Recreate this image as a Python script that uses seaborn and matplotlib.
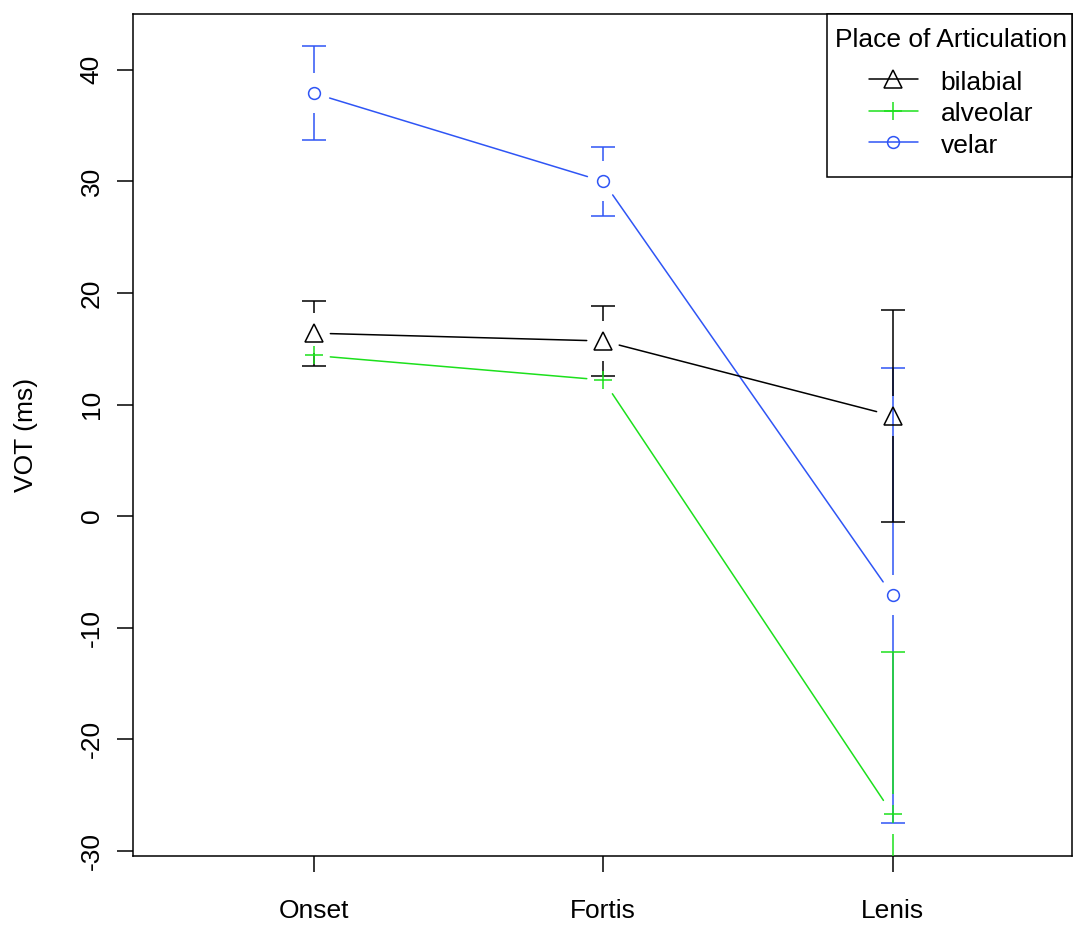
import numpy as np
import pandas as pd
import matplotlib
matplotlib.use("Agg")
import matplotlib.pyplot as plt
import seaborn as sns
from matplotlib.lines import Line2D
from matplotlib.patches import Rectangle

# ---- data ----
conditions = ["Onset", "Fortis", "Lenis"]
places = ["bilabial", "alveolar", "velar"]
bilabial_mean = [16.4, 15.7, 9.0]
bilabial_se = [2.9, 3.1, 9.5]
alveolar_mean = [14.4, 12.2, -26.7]
alveolar_se = [1.2, 1.1, 14.5]
velar_mean = [37.9, 30.0, -7.1]
velar_se = [4.2, 3.1, 20.4]
yticks = [-30, -20, -10, 0, 10, 20, 30, 40]

means = {"bilabial": bilabial_mean, "alveolar": alveolar_mean, "velar": velar_mean}
ses = {"bilabial": bilabial_se, "alveolar": alveolar_se, "velar": velar_se}

colors = {"bilabial": "black", "alveolar": "#1CE01C", "velar": "#2F55F5"}
markers = {"bilabial": "^", "alveolar": "+", "velar": "o"}
msizes = {"bilabial": 12.5, "alveolar": 13, "velar": 8.5}
draw_order = ["velar", "alveolar", "bilabial"]

sns.set_theme(style="white")
plt.rcParams["font.family"] = ["Liberation Sans", "DejaVu Sans"]

W, H = 1073, 925
L, R, T, B = 133, 1072, 14, 856
fig = plt.figure(figsize=(W / 100, H / 100), dpi=100)
ax = fig.add_axes([L / W, 1 - B / H, (R - L) / W, (B - T) / H])
XLIM = (-0.625, 2.62)
YLIM = (-30.45, 45.0)
ax.set_xlim(*XLIM)
ax.set_ylim(*YLIM)

x = np.arange(len(conditions), dtype=float)

def to_px(pts):
    return ax.transData.transform(pts)

def to_data(px):
    return ax.transData.inverted().transform(px)

LINE_GAP = 16.5   # px gap between connecting line and point
BAR_GAP = 20.0    # px gap between error bar and point
CAP_MS = 17.0     # cap width in points
LW = 1.1

ppu_y = to_px([(0, 1)])[0, 1] - to_px([(0, 0)])[0, 1]
gap_y = BAR_GAP / ppu_y

# connecting lines with gaps around points (type = "b")
rows = []
for p in places:
    pts = to_px(np.column_stack([x, means[p]]))
    for i in range(len(x) - 1):
        a, b = pts[i], pts[i + 1]
        d = b - a
        n = np.hypot(*d)
        if n <= 2 * LINE_GAP:
            continue
        u = d / n
        seg = to_data(np.array([a + u * LINE_GAP, b - u * LINE_GAP]))
        for k in range(2):
            rows.append(dict(place=p, seg=f"{p}{i}", x=seg[k, 0], y=seg[k, 1]))
segs = pd.DataFrame(rows)
sns.lineplot(data=segs, x="x", y="y", hue="place", hue_order=draw_order,
             units="seg", estimator=None, sort=False, palette=colors,
             legend=False, linewidth=LW, ax=ax)

# error bars (with gap around the point) + caps, then markers
for p in draw_order:
    c = colors[p]
    for xi, m, s in zip(x, means[p], ses[p]):
        if s > gap_y:
            ax.vlines(xi, m + gap_y, m + s, color=c, lw=LW, zorder=3)
            ax.vlines(xi, m - s, m - gap_y, color=c, lw=LW, zorder=3)
            ax.plot([xi, xi], [m + s, m - s], ls="none", marker="_", ms=CAP_MS,
                    mew=LW, color=c, zorder=3)
    ax.plot(x, means[p], ls="none", marker=markers[p], ms=msizes[p],
            mfc="none", mec=c, mew=LW, zorder=4)

ax.set_xlim(*XLIM)
ax.set_ylim(*YLIM)

ax.set_xticks(x)
ax.set_xticklabels(conditions)
ax.set_yticks(yticks)
ax.set_yticklabels([str(v) for v in yticks])
ax.tick_params(axis="both", which="major", direction="out", length=11.5, width=LW,
               color="black", labelsize=19, labelcolor="black",
               bottom=True, left=True, top=False, right=False)
ax.tick_params(axis="x", pad=19.5)
ax.tick_params(axis="y", pad=9.7)
for lab in ax.get_yticklabels():
    lab.set_rotation(90)
    lab.set_va("center")

for sp in ax.spines.values():
    sp.set_color("black")
    sp.set_linewidth(LW)
    sp.set_visible(True)

ax.set_xlabel("")
ax.set_ylabel("VOT (ms)", fontsize=19, color="black")
ax.yaxis.set_label_coords((38.5 - L) / (R - L), 0.5)

# legend box (frame drawn separately to match R's spacing)
LX0, LY0, LX1, LY1 = 827, 14, 1072, 177
frame = Rectangle((LX0 / W, 1 - LY1 / H), (LX1 - LX0) / W, (LY1 - LY0) / H,
                  transform=fig.transFigure, facecolor="white", edgecolor="black",
                  lw=LW, zorder=4.9, clip_on=False)
ax.add_patch(frame)

handles = [Line2D([], [], color=colors[p], marker=markers[p], ms=msizes[p],
                  mfc="none", mec=colors[p], mew=LW, lw=LW) for p in places]
leg = ax.legend(handles, places, title="Place of Articulation", loc="upper left",
                bbox_to_anchor=(LX0 / W, 1 - 20 / H),
                bbox_transform=fig.transFigure, borderaxespad=0,
                frameon=False, fontsize=19, title_fontsize=19, handlelength=1.86,
                handleheight=1.05, handletextpad=0.87, labelspacing=0.2,
                borderpad=0.3)
leg.set_zorder(5)
leg._legend_box.sep = 11.9
for t in leg.get_texts():
    t.set_color("black")
leg.get_title().set_color("black")

fig.savefig("out.png", dpi=100)
